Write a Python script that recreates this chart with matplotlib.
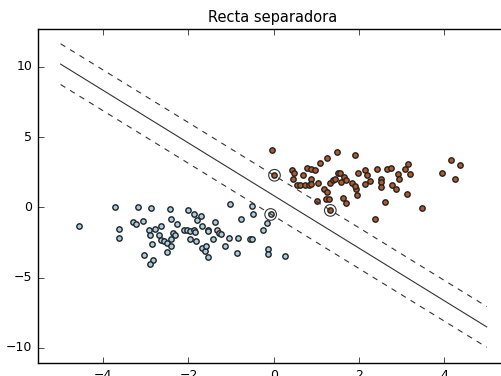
import numpy as np
import matplotlib
matplotlib.use('Agg')
import matplotlib.pyplot as plt

plt.style.use('classic')
plt.rcParams['font.size'] = 9
plt.rcParams['font.family'] = ['DejaVu Sans']

# class 0 points (light blue)
x0 = [-4.56, -3.72, -3.18, -2.87, -2.44, -2.0, -3.64, -3.62, -3.29, -3.23, -3.07,
      -2.92, -2.90, -2.78, -2.65, -2.86, -3.05, -2.82, -2.89, -2.68, -2.65, -2.57,
      -2.51, -2.41, -2.40, -2.36, -2.32, -2.51, -2.41, -2.27, -2.11, -2.04, -1.96,
      -1.88, -1.84, -1.96, -1.83, -1.87, -1.79, -1.71, -1.67, -1.55, -1.55, -1.69,
      -1.62, -1.59, -1.54, -1.42, -1.38, -1.32, -1.28, -1.24, -1.15, -1.05, -0.83,
      -1.02, -0.87, -0.77, -0.55, -0.50, -0.48, -0.07, -0.15, -0.24, -0.50, -0.13,
      -0.13, 0.27]
y0 = [-1.33, 0.0, 0.0, -0.07, -0.14, -0.2, -1.52, -2.2, -1.05, -1.17, -0.98,
      -1.62, -1.98, -1.52, -1.33, -2.57, -3.4, -3.71, -4.0, -1.98, -2.29, -2.4,
      -2.52, -2.76, -2.24, -1.81, -1.93, -3.17, -0.79, -1.21, -1.62, -1.62, -1.69,
      -1.62, -1.74, -2.21, -2.40, -0.5, -0.86, -0.62, -1.29, -1.57, -1.69, -2.88,
      -3.07, -2.76, -3.55, -2.24, -1.05, -1.57, -1.81, -1.88, -2.76, -2.17, -2.17,
      0.26, -3.24, -0.79, -2.21, 0.1, -0.5, -0.5, -1.1, -1.62, -2.21, -2.95,
      -3.29, -3.48]

# class 1 points (brown)
x1 = [-0.03, 0.02, 0.42, 0.48, 0.46, 0.69, 0.79, 0.87, 0.96, 0.88, 0.55, 0.63,
      0.73, 0.83, 0.87, 1.04, 1.08, 1.26, 1.49, 1.18, 1.26, 1.33, 1.40, 1.45,
      1.51, 1.55, 1.65, 1.69, 1.59, 1.01, 1.22, 1.30, 1.33, 1.63, 1.69, 1.92,
      1.84, 1.94, 1.96, 1.97, 2.15, 2.19, 2.15, 2.27, 2.43, 2.51, 2.51, 2.53,
      2.66, 2.75, 2.78, 2.87, 2.92, 2.95, 3.09, 3.15, 3.19, 3.13, 2.62, 2.39,
      3.48, 4.17, 4.38, 3.95, 4.25, 1.90]
y1 = [4.07, 2.29, 2.64, 2.48, 2.05, 2.29, 2.83, 2.76, 2.66, 2.05, 1.57, 1.57,
      1.57, 1.57, 1.69, 1.71, 3.14, 3.55, 3.95, 1.33, 1.1, 1.71, 1.95, 2.05,
      2.48, 2.48, 2.19, 1.95, 1.81, 0.45, 0.57, 0.62, -0.21, 0.69, 0.33, 3.71,
      1.76, 1.29, 0.86, 2.48, 2.66, 2.29, 1.69, 1.88, 2.71, 2.05, 1.81, 1.45,
      2.71, 2.83, 1.57, 1.33, 2.36, 2.05, 2.71, 3.12, 2.36, 0.93, 0.38, -0.79,
      -0.07, 3.38, 3.0, 2.43, 2.0, 1.52]

# support vectors
sv_x = [-0.07, 0.02, 1.33]
sv_y = [-0.5, 2.29, -0.21]

# separating line y = slope*x + intercept, margins +/- offset
slope = -1.87
intercept = 0.85
margin = 1.45
x_range = [-5, 5]

fig = plt.figure(figsize=(5.01, 3.76), dpi=100, facecolor='white')
ax = fig.add_axes([38 / 501, 13 / 376, 470 / 501, 334 / 376])

xx = np.array(x_range)
yy = slope * xx + intercept
ax.plot(xx, yy, '-', color='#333333', lw=0.8)
ax.plot(xx, yy + margin, '--', color='#333333', lw=0.8, dashes=(4, 4))
ax.plot(xx, yy - margin, '--', color='#333333', lw=0.8, dashes=(4, 4))

ax.scatter(sv_x, sv_y, s=70, facecolors='none', edgecolors='#333333', linewidths=0.8)
ax.scatter(x0, y0, c='#a6cee3', edgecolors='#222222', s=15, linewidths=1.0)
ax.scatter(x1, y1, c='#b15928', edgecolors='#222222', s=15, linewidths=1.0)

ax.set_xlim(-5.53, 5.5)
ax.set_ylim(-11.07, 12.7)
ax.set_xticks([-4, -2, 0, 2, 4])
ax.set_yticks([-10, -5, 0, 5, 10])
ax.set_title('Recta separadora', fontsize=10.5)

fig.savefig('out.png', dpi=100, facecolor='white')
